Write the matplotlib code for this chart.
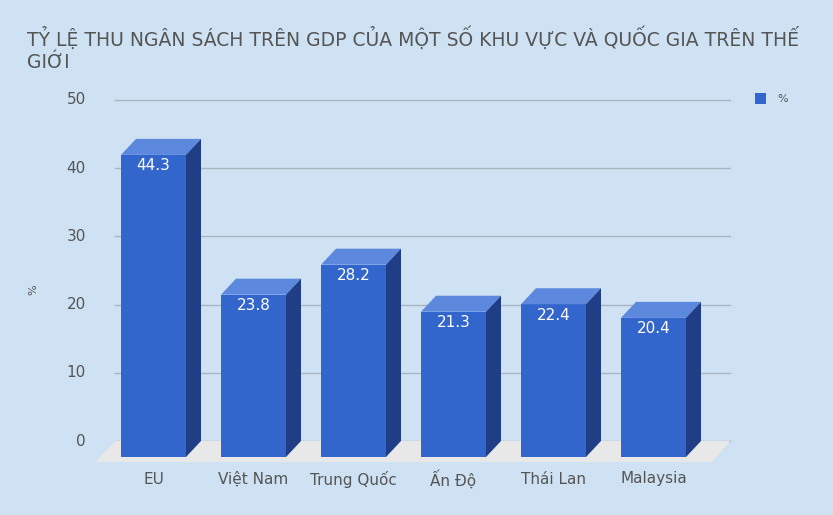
import matplotlib.pyplot as plt
from matplotlib.patches import Polygon, Rectangle

categories = ["EU", "Việt Nam", "Trung Quốc", "Ấn Độ", "Thái Lan", "Malaysia"]
values = [44.3, 23.8, 28.2, 21.3, 22.4, 20.4]
yticks = [0, 10, 20, 30, 40, 50]

bg = "#cfe2f3"
front = "#3366cc"
top = "#5c88dd"
side = "#1f3e86"
grey = "#555555"

fig = plt.figure(figsize=(8.33, 5.15), dpi=100, facecolor=bg)
ax = fig.add_axes([0, 0, 1, 1])
ax.set_facecolor(bg)
ppu = 6.82  # pixels per data unit
ax.set_xlim(0, 833)
ax.set_ylim((441 - 515) / ppu, 441 / ppu)
ax.axis("off")

dx = 15           # depth offset in pixels (x)
dy = 16 / ppu     # depth offset in data units (y)

# floor
ax.add_patch(Polygon([(95, -21 / ppu), (712, -21 / ppu), (730, 0), (115, 0)],
                     closed=True, facecolor="#e8e8e8", edgecolor="none", zorder=1))
# gridlines & tick labels
for t in yticks:
    ax.plot([115, 730], [t, t], color="#a8b4bf", lw=1, zorder=0.5)
    ax.text(86, t, str(t), ha="right", va="center", fontsize=11, color=grey)

ax.text(33, (441 - 290) / ppu, "%", ha="center", va="center", fontsize=8,
        color=grey, rotation=90)

w = 65
for i, (c, v) in enumerate(zip(categories, values)):
    x0 = 121 + 100 * i
    y0 = -dy
    y1 = v - dy
    ax.add_patch(Rectangle((x0, y0), w, v, facecolor=front, edgecolor="none", zorder=3))
    ax.add_patch(Polygon([(x0, y1), (x0 + w, y1), (x0 + w + dx, y1 + dy), (x0 + dx, y1 + dy)],
                         closed=True, facecolor=top, edgecolor="none", zorder=3))
    ax.add_patch(Polygon([(x0 + w, y0), (x0 + w + dx, y0 + dy), (x0 + w + dx, y1 + dy), (x0 + w, y1)],
                         closed=True, facecolor=side, edgecolor="none", zorder=3))
    ax.text(x0 + w / 2, y1 - 11 / ppu, f"{v}", ha="center", va="center",
            fontsize=11, color="white", zorder=4)
    ax.text(x0 + w / 2, (441 - 479) / ppu, c, ha="center", va="center",
            fontsize=11, color=grey)

# legend
ax.add_patch(Rectangle((755, (441 - 104) / ppu), 11, 11 / ppu, facecolor=front,
                       edgecolor="none"))
ax.text(777, (441 - 99) / ppu, "%", ha="left", va="center", fontsize=8, color=grey)

fig.text(27 / 833, 1 - 38 / 515, "TỶ LỆ THU NGÂN SÁCH TRÊN GDP CỦA MỘT SỐ KHU VỰC VÀ QUỐC GIA TRÊN THẾ",
         fontsize=13.5, color=grey, va="center", ha="left")
fig.text(27 / 833, 1 - 62 / 515, "GIỚI", fontsize=13.5, color=grey, va="center", ha="left")

fig.savefig("out.png", dpi=100, facecolor=bg)
